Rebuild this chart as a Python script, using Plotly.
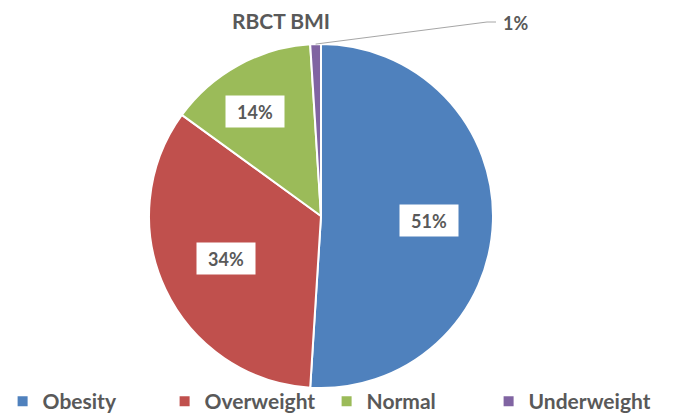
import math
import plotly.graph_objects as go

categories = ["Obesity", "Overweight", "Normal", "Underweight"]
values = [51, 34, 14, 1]
colors = ["#4F81BD", "#C0504D", "#9BBB59", "#8064A2"]
title_text = "RBCT BMI"

W, H = 674, 416
OFF = 8  # page body margin offset in the browser
MB = 34  # bottom margin holding the legend
HP = H - MB  # plot-area height
FONT = "Lato"
GREY = "#595959"

# pie geometry (pixels, figure coords)
cx_px, cy_px, r_px = 321 - OFF, 216 - OFF, 172
dom_x = [(cx_px - r_px) / W, (cx_px + r_px) / W]
dom_y = [1 - (cy_px + r_px) / HP, 1 - (cy_px - r_px) / HP]


def px(xp):
    return xp / W


def py(yp):
    return 1 - yp / HP


fig = go.Figure(go.Pie(
    labels=categories, values=values, sort=False, direction="clockwise",
    rotation=0, marker=dict(colors=colors, line=dict(color="white", width=2)),
    textinfo="none", hoverinfo="label+percent",
    domain=dict(x=dom_x, y=dom_y),
))

total = sum(values)
cum = 0
annotations = []
shapes = []
for cat, v in zip(categories, values):
    mid = (cum + v / 2) / total * 2 * math.pi
    cum += v
    pct = f"{round(v / total * 100)}%"
    if v / total >= 0.05:
        rr = 0.8 * r_px
        annotations.append(dict(
            x=px(cx_px + rr * math.sin(mid)), y=py(cy_px - rr * math.cos(mid)),
            xref="paper", yref="paper", text=pct, showarrow=False,
            bgcolor="white", width=56, height=29,
            font=dict(family=FONT, size=18, color=GREY, weight="bold"),
        ))
    else:
        sx = px(cx_px + r_px * math.sin(mid))
        sy = py(cy_px - r_px * math.cos(mid))
        bx, by = px(487 - OFF), py(22 - OFF)
        ex = px(496 - OFF)
        shapes.append(dict(
            type="path", xref="paper", yref="paper",
            path=f"M {sx} {sy} L {bx} {by} L {ex} {by}",
            line=dict(color="#A6A6A6", width=1),
        ))
        annotations.append(dict(
            x=px(501 - OFF), y=py(23 - OFF), xref="paper", yref="paper",
            text=pct, showarrow=False, xanchor="left", yanchor="middle",
            font=dict(family=FONT, size=18, color=GREY, weight="bold"),
        ))

fig.update_layout(
    width=W, height=H,
    margin=dict(l=0, r=0, t=0, b=MB, autoexpand=False),
    paper_bgcolor="white", plot_bgcolor="white",
    title=dict(text=title_text, x=(281 - OFF) / W, xanchor="center",
               y=1 - (22 - OFF) / H, yanchor="middle",
               font=dict(family=FONT, size=21, color=GREY, weight="bold")),
    showlegend=True,
    legend=dict(orientation="h", x=-0.008, xanchor="left",
                y=-0.084, yanchor="bottom",
                entrywidth=117, bgcolor="rgba(0,0,0,0)",
                font=dict(family=FONT, size=21, color=GREY, weight="bold")),
    annotations=annotations, shapes=shapes,
)

fig.write_html("out.html")
